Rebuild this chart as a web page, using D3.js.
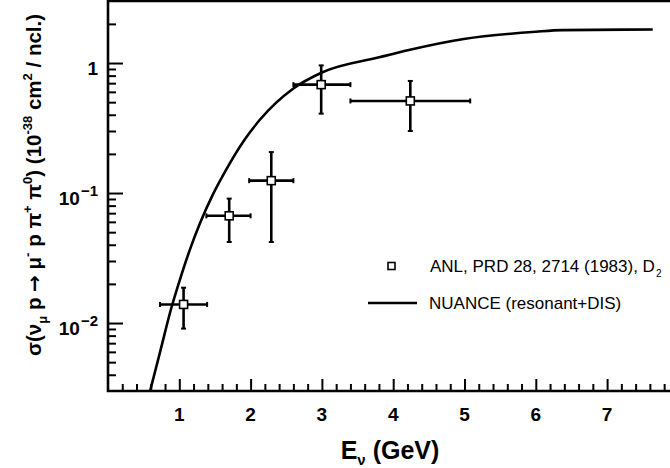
<!DOCTYPE html>
<html>
<head>
<meta charset="utf-8">
<script src="https://cdn.jsdelivr.net/npm/d3@7/dist/d3.min.js"></script>
<style>
  html, body { margin: 0; padding: 0; background: #fff; }
  svg { display: block; }
  text { font-family: "Liberation Sans", Arial, Helvetica, sans-serif; fill: #000; }
</style>
</head>
<body>
<svg id="chart" width="670" height="468"></svg>
<script>
// ANL data points (E in GeV, sigma in 1e-38 cm^2 / nucleon)
const energy   = [1.06, 1.70, 2.29, 2.99, 4.24];
const energyLo = [0.73, 1.38, 1.98, 2.60, 3.40];
const energyHi = [1.39, 2.00, 2.60, 3.40, 5.08];
const sigma    = [0.0139, 0.0668, 0.1245, 0.682, 0.511];
const sigmaLo  = [0.00906, 0.042, 0.042, 0.408, 0.300];
const sigmaHi  = [0.0187, 0.0906, 0.2065, 0.959, 0.728];

// NUANCE (resonant+DIS) prediction
const nuanceE     = [0.59, 0.73, 0.89, 1.01, 1.15, 1.29, 1.47, 1.67, 1.92, 2.13, 2.60, 3.00, 3.82, 4.22, 4.99, 6.00, 6.37, 7.64];
const nuanceSigma = [0.003, 0.00598, 0.01316, 0.02169, 0.0369, 0.0585, 0.0971, 0.1555, 0.259, 0.366, 0.637, 0.846, 1.112, 1.259, 1.53, 1.74, 1.79, 1.81];

const xTickValues = [1, 2, 3, 4, 5, 6, 7];
const yTickValues = [0.01, 0.1, 1];
const yTickLabels = [["10", "\u22122"], ["10", "\u22121"], ["1", ""]];
const legendLabels = ["ANL, PRD 28, 2714 (1983), D", "NUANCE (resonant+DIS)"];

const svg = d3.select("#chart");
const pLeft = 108, pRight = 678.4, pTop = 1, pBottom = 391;

const x = d3.scaleLinear().domain([0, 8]).range([pLeft, pRight]);
const y = d3.scaleLog().domain([0.003, 3]).range([pBottom, pTop]);

// clip
svg.append("defs").append("clipPath").attr("id", "plotclip")
  .append("rect").attr("x", pLeft).attr("y", pTop).attr("width", pRight - pLeft).attr("height", pBottom - pTop);

// minor ticks
const xMinor = d3.range(0, 8.01, 0.2).map(v => +v.toFixed(1)).filter(v => Math.abs(v - Math.round(v)) > 1e-6);
const yMinor = [];
[0.001, 0.01, 0.1, 1].forEach(d => { for (let k = 2; k <= 9; k++) { const v = d * k; if (v > 0.003 && v < 3) yMinor.push(v); } });

// x axis ticks (inward)
const xAxisMajor = d3.axisBottom(x).tickValues(xTickValues).tickSize(-12).tickFormat("");
const xAxisMinor = d3.axisBottom(x).tickValues(xMinor).tickSize(-7).tickFormat("");
svg.append("g").attr("transform", `translate(0,${pBottom})`).call(xAxisMinor)
  .call(g => g.select(".domain").remove())
  .selectAll("line").attr("stroke", "#000").attr("stroke-width", 2);
svg.append("g").attr("transform", `translate(0,${pBottom})`).call(xAxisMajor)
  .call(g => g.select(".domain").remove())
  .selectAll("line").attr("stroke", "#000").attr("stroke-width", 2);

// y axis ticks (inward)
const yAxisMajor = d3.axisLeft(y).tickValues(yTickValues).tickSize(-15).tickFormat("");
const yAxisMinor = d3.axisLeft(y).tickValues(yMinor).tickSize(-8).tickFormat("");
svg.append("g").attr("transform", `translate(${pLeft},0)`).call(yAxisMinor)
  .call(g => g.select(".domain").remove())
  .selectAll("line").attr("stroke", "#000").attr("stroke-width", 2);
svg.append("g").attr("transform", `translate(${pLeft},0)`).call(yAxisMajor)
  .call(g => g.select(".domain").remove())
  .selectAll("line").attr("stroke", "#000").attr("stroke-width", 2);

// frame
svg.append("path")
  .attr("d", `M${pRight},${pTop} L${pLeft},${pTop} L${pLeft},${pBottom} L${pRight},${pBottom} Z`)
  .attr("fill", "none").attr("stroke", "#000").attr("stroke-width", 2.6);

// x tick labels
svg.append("g").selectAll("text").data(xTickValues).join("text")
  .attr("x", d => x(d)).attr("y", 421)
  .attr("text-anchor", "middle")
  .style("font-size", "19px").style("font-weight", "bold")
  .text(d => d);

// y tick labels
const yl = svg.append("g").selectAll("text").data(yTickValues).join("text")
  .attr("x", 98).attr("y", d => y(d) + 12)
  .attr("text-anchor", "end")
  .style("font-size", "19px").style("font-weight", "bold");
yl.each(function(d, i) {
  const t = d3.select(this);
  const [base, sup] = yTickLabels[i];
  t.append("tspan").text(base);
  if (sup) t.append("tspan").attr("dx", 1).attr("dy", -9).style("font-size", "15px").text(sup);
});

// axis titles
const xt = svg.append("text").attr("x", 390).attr("y", 459).attr("text-anchor", "middle")
  .style("font-size", "25px").style("font-weight", "bold");
xt.append("tspan").text("E");
xt.append("tspan").attr("dy", 6).style("font-size", "15px").text("ν");
xt.append("tspan").attr("dy", -6).text(" (GeV)");

const yt = svg.append("text").attr("transform", "translate(41,185) rotate(-90)")
  .attr("text-anchor", "middle").style("font-size", "20.5px").style("font-weight", "bold");
yt.append("tspan").text("σ(ν");
yt.append("tspan").attr("dy", 6).style("font-size", "13px").text("μ");
yt.append("tspan").attr("dy", -6).text(" p ");
yt.append("tspan").style("font-family", "'DejaVu Sans', sans-serif").style("font-size", "20px").text("→");
yt.append("tspan").text(" μ");
yt.append("tspan").attr("dy", -9).style("font-size", "13px").text("-");
yt.append("tspan").attr("dy", 9).text(" p π");
yt.append("tspan").attr("dy", -9).style("font-size", "13px").text("+");
yt.append("tspan").attr("dy", 9).text(" π");
yt.append("tspan").attr("dy", -9).style("font-size", "13px").text("0");
yt.append("tspan").attr("dy", 9).text(") (10");
yt.append("tspan").attr("dy", -9).style("font-size", "13px").text("-38");
yt.append("tspan").attr("dy", 9).text(" cm");
yt.append("tspan").attr("dy", -9).style("font-size", "13px").text("2");
yt.append("tspan").attr("dy", 9).text(" / ncl.)");

// NUANCE curve
const curveData = nuanceE.map((e, i) => [e, nuanceSigma[i]]);
svg.append("path").datum(curveData)
  .attr("clip-path", "url(#plotclip)")
  .attr("d", d3.line().x(d => x(d[0])).y(d => y(d[1])).curve(d3.curveMonotoneX))
  .attr("fill", "none").attr("stroke", "#000").attr("stroke-width", 2.6);

// data points with error bars
const pts = energy.map((e, i) => ({e, lo: energyLo[i], hi: energyHi[i], s: sigma[i], slo: sigmaLo[i], shi: sigmaHi[i]}));
const pg = svg.append("g");
const cap = 2.5;
pts.forEach(p => {
  const g = pg.append("g").attr("stroke", "#000");
  g.append("line").attr("x1", x(p.lo)).attr("x2", x(p.hi)).attr("y1", y(p.s)).attr("y2", y(p.s)).attr("stroke-width", 2.6);
  g.append("line").attr("x1", x(p.e)).attr("x2", x(p.e)).attr("y1", y(p.slo)).attr("y2", y(p.shi)).attr("stroke-width", 2.6);
  [x(p.lo), x(p.hi)].forEach(xx => g.append("line").attr("x1", xx).attr("x2", xx).attr("y1", y(p.s) - cap).attr("y2", y(p.s) + cap).attr("stroke-width", 2));
  [y(p.slo), y(p.shi)].forEach(yy => g.append("line").attr("y1", yy).attr("y2", yy).attr("x1", x(p.e) - cap).attr("x2", x(p.e) + cap).attr("stroke-width", 2));
  g.append("rect").attr("x", x(p.e) - 4).attr("y", y(p.s) - 4).attr("width", 8).attr("height", 8)
    .attr("fill", "#fff").attr("stroke-width", 1.6);
});

// legend
const lg = svg.append("g");
lg.append("rect").attr("x", 388).attr("y", 262.5).attr("width", 7).attr("height", 7)
  .attr("fill", "#fff").attr("stroke", "#000").attr("stroke-width", 1.6);
const l1 = lg.append("text").attr("x", 430).attr("y", 272).style("font-size", "17px");
l1.append("tspan").text(legendLabels[0]);
l1.append("tspan").attr("dx", 1).attr("dy", 5).style("font-size", "10px").text("2");
lg.append("line").attr("x1", 368).attr("x2", 417).attr("y1", 303).attr("y2", 303)
  .attr("stroke", "#000").attr("stroke-width", 2.6);
lg.append("text").attr("x", 429).attr("y", 309).style("font-size", "17px").text(legendLabels[1]);
</script>
</body>
</html>
